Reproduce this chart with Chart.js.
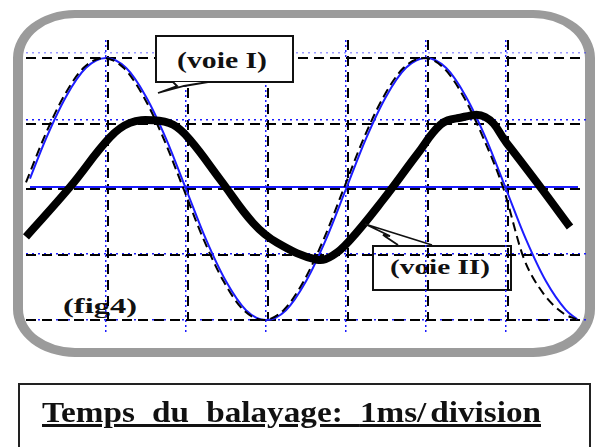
<!DOCTYPE html>
<html>
<head>
<meta charset="utf-8">
<script src="https://cdn.jsdelivr.net/npm/chart.js@4.4.1/dist/chart.umd.min.js"></script>
<style>
  html, body { margin: 0; padding: 0; background: #fff; }
  #wrap { position: relative; width: 600px; height: 447px; overflow: hidden; background: #fff; }
  #frame { position: absolute; left: 13px; top: 10px; width: 582px; height: 347px; box-sizing: border-box;
           border-style: solid; border-color: #9b9b9b; border-width: 8px 10px 9px 10px;
           border-radius: 62px / 48px; z-index: 0; }
  canvas { position: absolute; left: 0; top: 0; z-index: 1; }
  .box { position: absolute; box-sizing: border-box; border: 2px solid #111; }
  #box1 { left: 155px; top: 35px; width: 139px; height: 48px; background: #fff; z-index: 2; }
  #box2 { left: 372px; top: 245px; width: 140px; height: 46px; z-index: 0; }
  .lbl { position: absolute; font-family: "Liberation Serif", "Times New Roman", serif; font-weight: bold;
         color: #111; line-height: 1; white-space: pre; transform-origin: 0 50%; display: inline-block; }
  #bottom { position: absolute; left: 18px; top: 383px; width: 573px; height: 100px; box-sizing: border-box;
            border: 2px solid #222; z-index: 2; }
  #svg { position: absolute; left: 0; top: 0; z-index: 3; }
</style>
</head>
<body>
<div id="wrap">
  <div id="frame"></div>
  <div class="box" id="box2"></div>
  <span class="lbl" id="l2" style="font-size:22px; left:390px; top:256px; z-index:0;">(voie II)</span>
  <span class="lbl" id="lfig" style="font-size:22px; left:63px; top:295px; z-index:0;">(fig4)</span>
  <canvas id="c" width="600" height="447"></canvas>
  <div class="box" id="box1"></div>
  <span class="lbl" id="l1" style="font-size:23px; left:177px; top:49px; z-index:3;">(voie I)</span>
  <svg id="svg" width="600" height="447">
    <polyline points="173,82 177,86 158,93 184,86 208,82" fill="#fff" stroke="#111" stroke-width="1.8"/>
    <polyline points="398,245 383,235 390,236 365,224 432,245" fill="none" stroke="#111" stroke-width="1.8"/>
  </svg>
  <div id="bottom"></div>
  <span class="lbl" id="lb" style="font-size:30px; left:42px; top:397px; z-index:3; word-spacing:8px;
        text-decoration: underline; text-decoration-thickness: 2.5px; text-underline-offset: 2px;">Temps du balayage: <span style="word-spacing:-4px">1ms/ division</span></span>
</div>
<script>
// ---- Data (time in ms / divisions, amplitude in divisions) ----
const timeII = [0, 0.55, 1.05, 1.30, 1.59, 1.84, 2.05, 2.43, 2.84, 3.14, 3.64, 3.84, 4.05, 4.46, 4.89, 5.18, 5.39, 5.74, 6.01, 6.43, 6.80];
const voieII = [-0.73, 0.03, 0.79, 1.01, 1.05, 0.98, 0.75, 0.14, -0.52, -0.82, -1.08, -1.01, -0.78, -0.17, 0.53, 0.98, 1.08, 1.10, 0.70, 0.03, -0.58];

const timeI = [0.05, 0.25, 0.5, 0.75, 1, 1.25, 1.5, 1.75, 2, 2.25, 2.5, 2.75, 3, 3.25, 3.5, 3.75, 4, 4.25, 4.5, 4.75, 5, 5.25, 5.5, 5.75, 6, 6.25, 6.5, 6.75, 6.89];
const voieI = [0.16, 0.77, 1.41, 1.85, 2, 1.85, 1.41, 0.77, 0, -0.77, -1.41, -1.85, -2, -1.85, -1.41, -0.77, 0, 0.77, 1.41, 1.85, 2, 1.85, 1.41, 0.77, 0, -0.77, -1.41, -1.85, -1.99];

const timeTheory = [0, 0.22, 0.47, 0.72, 0.97, 1.22, 1.47, 1.72, 1.97, 2.22, 2.47, 2.72, 2.97, 3.22, 3.47, 3.72, 3.97, 4.22, 4.47, 4.72, 4.97, 5.22, 5.47, 5.72, 5.97, 6.22, 6.47, 6.72, 6.88];
const theory = [0.10, 0.77, 1.41, 1.85, 2, 1.85, 1.41, 0.77, 0, -0.77, -1.41, -1.85, -2, -1.85, -1.41, -0.77, 0, 0.77, 1.41, 1.85, 2, 1.85, 1.41, 0.77, 0, -1.05, -1.60, -1.90, -1.99];

const refTime = [0.05, 6.9];
const refLevel = [0.03, 0.03];

const xGridTicks = [1, 2, 3, 4, 5, 6];
const yGridTicks = [-2, -1, 0, 1, 2];
const yDotTicks = [-2, -0.99, 1.05, 2.08];

const pts = (xs, ys) => xs.map((x, i) => ({ x: x, y: ys[i] }));
const setTicks = list => axis => { axis.ticks = list.map(v => ({ value: v })); };

const BLUE = '#1c1cff';
const ctx = document.getElementById('c').getContext('2d');
new Chart(ctx, {
  type: 'line',
  data: {
    datasets: [
      { data: pts(timeII, voieII), borderColor: '#000', borderWidth: 8, tension: 0.4,
        pointRadius: 0, clip: false, borderJoinStyle: 'round' },
      { data: pts(timeTheory, theory), borderColor: '#000', borderWidth: 2, borderDash: [9, 5],
        cubicInterpolationMode: 'monotone', pointRadius: 0, clip: false },
      { data: pts(timeI, voieI), borderColor: BLUE, borderWidth: 2, cubicInterpolationMode: 'monotone',
        pointRadius: 0, clip: false },
      { data: pts(refTime, refLevel), borderColor: BLUE, borderWidth: 2, pointRadius: 0, clip: false }
    ]
  },
  options: {
    responsive: false,
    animation: false,
    devicePixelRatio: 1,
    layout: { padding: { left: 26, right: 14, top: 40, bottom: 112 } },
    plugins: { legend: { display: false }, tooltip: { enabled: false } },
    scales: {
      x: {
        type: 'linear', min: 0, max: 7, position: 'bottom',
        ticks: { display: false },
        afterBuildTicks: setTicks(xGridTicks),
        grid: { color: BLUE, lineWidth: 1.5, drawTicks: true, tickLength: 15, tickColor: BLUE,
                tickWidth: 1.5, tickBorderDash: [2, 3] },
        border: { display: false, dash: [2, 3] }
      },
      xd: {
        type: 'linear', min: -0.03, max: 6.97, position: 'bottom',
        ticks: { display: false },
        afterBuildTicks: setTicks(xGridTicks),
        grid: { color: '#000', lineWidth: 2, drawTicks: false },
        border: { display: false, dash: [10, 6] }
      },
      yb: {
        type: 'linear', min: -2, max: 2.275, position: 'left',
        ticks: { display: false },
        afterBuildTicks: setTicks(yDotTicks),
        grid: { color: c => (c.tick && c.tick.value > 2 ? 'rgba(28,28,255,0.45)' : BLUE),
                lineWidth: 1.5, drawTicks: false },
        border: { display: false, dash: [2, 4] }
      },
      y: {
        type: 'linear', min: -2, max: 2.275, position: 'left',
        ticks: { display: false },
        afterBuildTicks: setTicks(yGridTicks),
        grid: { color: '#000', lineWidth: 2, drawTicks: false },
        border: { display: false, dash: [10, 6] }
      }
    }
  }
});

// fit label widths to the reference's stretched lettering
function fit(id, target) {
  const el = document.getElementById(id);
  const w = el.getBoundingClientRect().width;
  if (w > 0) el.style.transform = 'scaleX(' + (target / w) + ')';
}
fit('l1', 90);
fit('l2', 100);
fit('lfig', 74);
fit('lb', 499);
</script>
</body>
</html>
